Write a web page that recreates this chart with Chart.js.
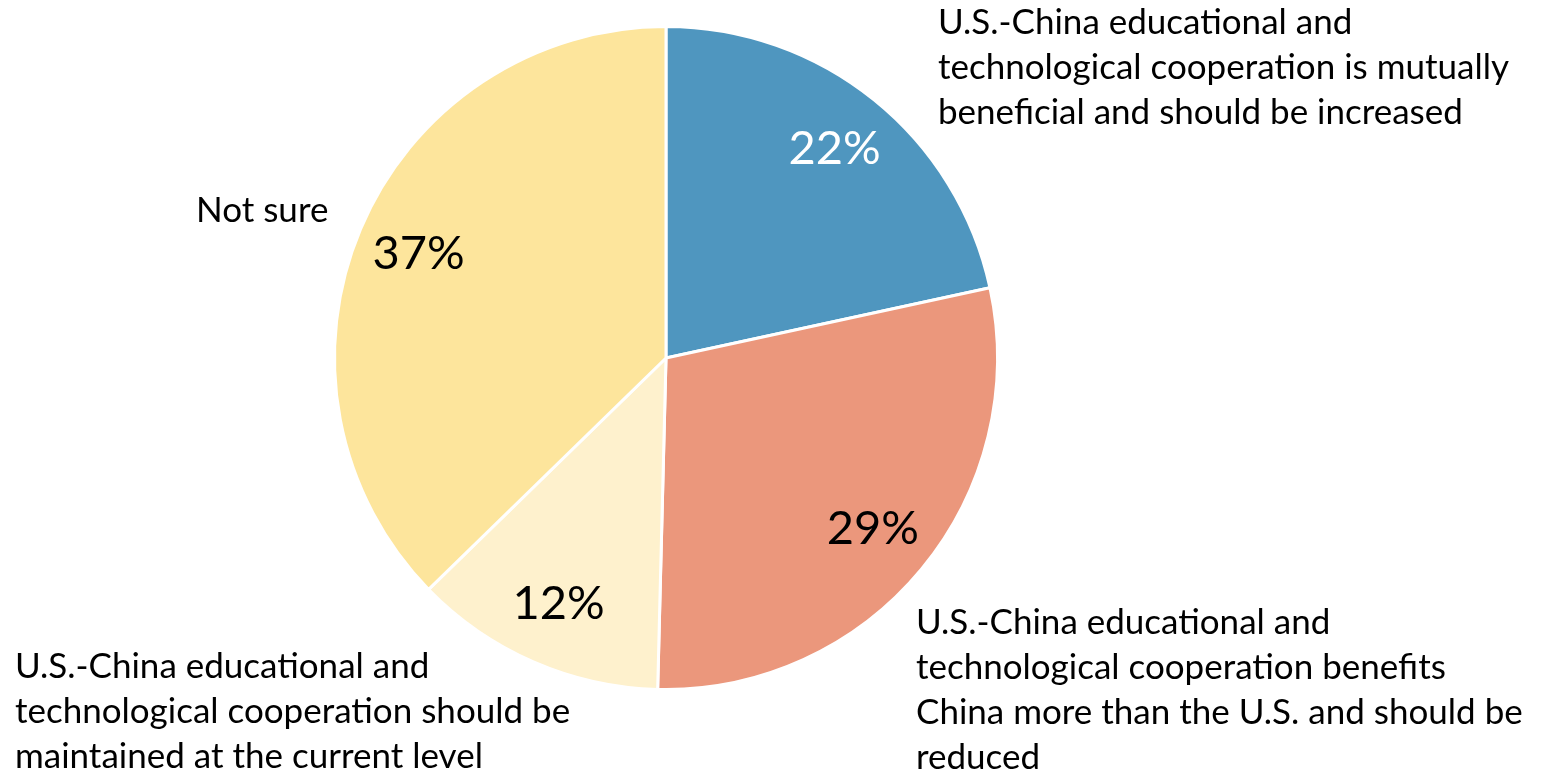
<!DOCTYPE html>
<html>
<head>
<meta charset="utf-8">
<script src="https://cdn.jsdelivr.net/npm/chart.js@4"></script>
<style>
  html, body { margin: 0; padding: 0; background: #fff; }
  #wrap { width: 1542px; height: 772px; }
</style>
</head>
<body>
<div id="wrap"><canvas id="pieChart" width="1542" height="772"></canvas></div>
<script>
// Data
const categories = [
    'U.S.-China educational and technological cooperation is mutually beneficial and should be increased',
    'U.S.-China educational and technological cooperation benefits China more than the U.S. and should be reduced',
    'U.S.-China educational and technological cooperation should be maintained at the current level',
    'Not sure'
];
// slice sizes, labels show the rounded values
const shares = [21.6, 28.8, 12.3, 37.3];
const sliceColors = ['#4F96BF', '#EB977C', '#FEF1CD', '#FDE59C'];
const pctColors = ['#ffffff', '#000000', '#000000', '#000000'];

// Wrapped outside labels (same order as categories)
const labelLines = [
    ['U.S.-China educational and', 'technological cooperation is mutually', 'beneficial and should be increased'],
    ['U.S.-China educational and', 'technological cooperation benefits', 'China more than the U.S. and should be', 'reduced'],
    ['U.S.-China educational and', 'technological cooperation should be', 'maintained at the current level'],
    ['Not sure']
];
const labelAnchors = [
    { x: 938, y: 23 },
    { x: 916, y: 623 },
    { x: 15, y: 667 },
    { x: 196, y: 211 }
];

const FONT = 'Lato, "Open Sans", sans-serif';

const labelsPlugin = {
    id: 'pieLabels',
    afterDatasetsDraw(chart) {
        const { ctx } = chart;
        const meta = chart.getDatasetMeta(0);
        ctx.save();
        ctx.textBaseline = 'middle';

        // percentages inside slices
        ctx.font = '47px ' + FONT;
        ctx.textAlign = 'center';
        meta.data.forEach((arc, i) => {
            const mid = (arc.startAngle + arc.endAngle) / 2;
            const r = arc.outerRadius * 0.81;
            ctx.fillStyle = pctColors[i];
            ctx.fillText(Math.round(shares[i]) + '%', arc.x + Math.cos(mid) * r, arc.y + Math.sin(mid) * r);
        });

        // category labels outside
        ctx.font = '35px ' + FONT;
        ctx.textAlign = 'left';
        ctx.fillStyle = '#000000';
        labelLines.forEach((lines, i) => {
            const a = labelAnchors[i];
            lines.forEach((line, j) => {
                ctx.fillText(line, a.x, a.y + j * 45);
            });
        });
        ctx.restore();
    }
};

new Chart(document.getElementById('pieChart').getContext('2d'), {
    type: 'pie',
    data: {
        labels: categories,
        datasets: [{
            data: shares,
            backgroundColor: sliceColors,
            borderColor: '#ffffff',
            borderWidth: 3
        }]
    },
    options: {
        responsive: false,
        animation: false,
        layout: {
            padding: { left: 333, right: 543, top: 25, bottom: 81 }
        },
        plugins: {
            legend: { display: false },
            tooltip: { enabled: false }
        }
    },
    plugins: [labelsPlugin]
});
</script>
</body>
</html>
